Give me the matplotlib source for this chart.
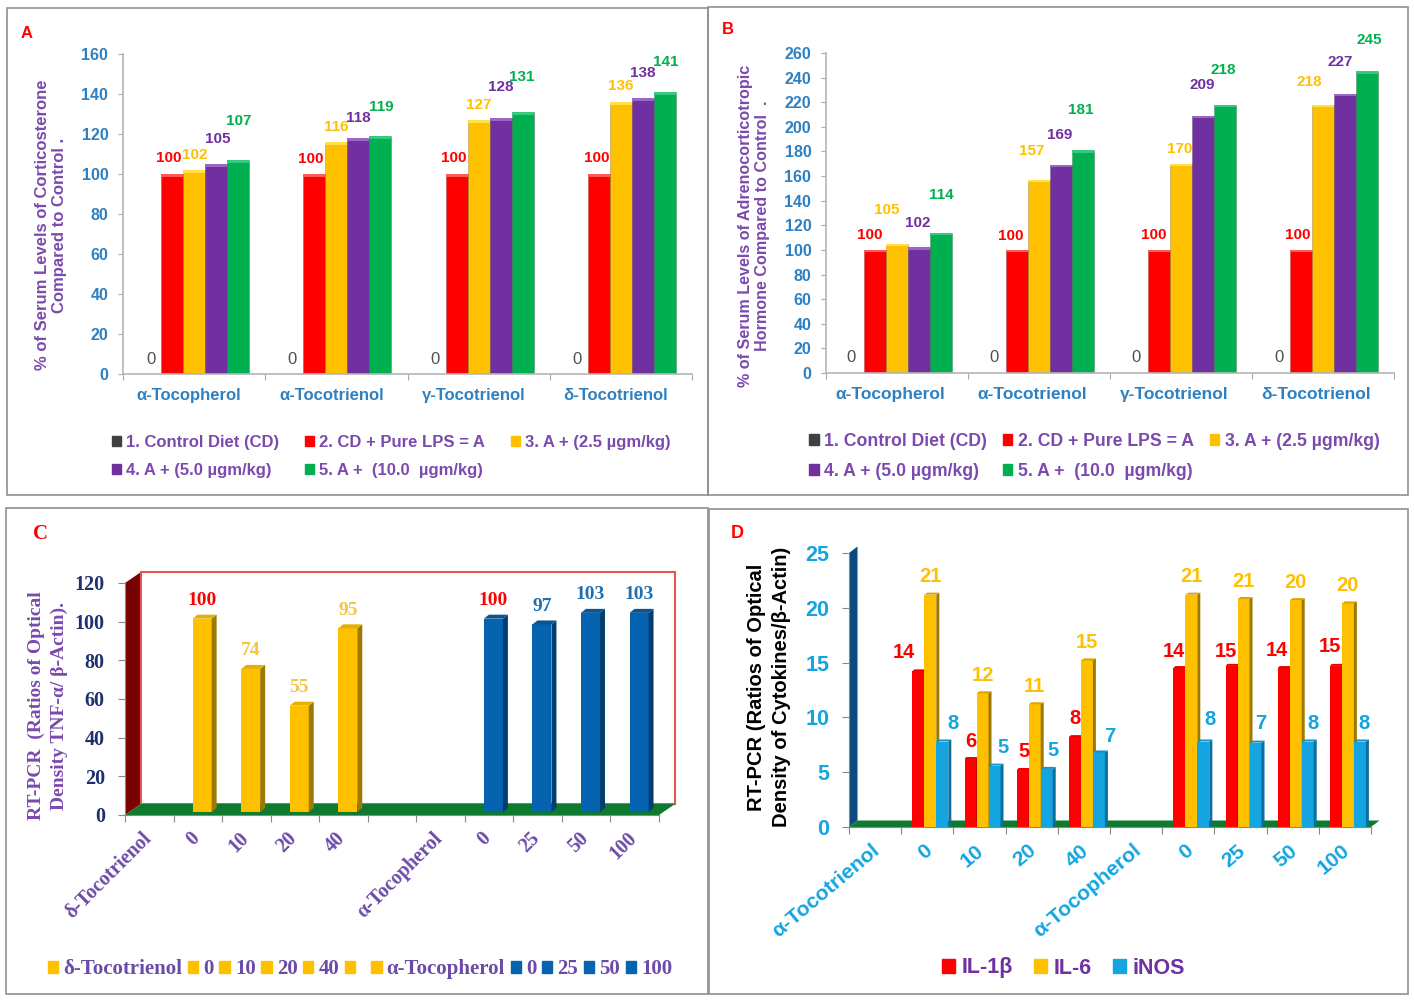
import matplotlib
matplotlib.use("Agg")
import matplotlib.pyplot as plt
from matplotlib.patches import Patch, Rectangle

W, H = 1414, 1001
SANS = "Liberation Sans"
SERIF = "Liberation Serif"

RED = "#FF0000"
ORANGE = "#FFC000"
PURPLE = "#7030A0"
GREEN = "#00B050"
GREY = "#404040"
BLUE_C = "#0563AF"
CYAN = "#14A5E0"
TEXT_PURPLE = "#7A4AAE"
AXIS_BLUE = "#2F80C0"

# Panel A
groups_a = ["α-Tocopherol", "α-Tocotrienol", "γ-Tocotrienol", "δ-Tocotrienol"]
control_a = [0, 0, 0, 0]
lps_a = [100, 100, 100, 100]
low_a = [102, 116, 127, 136]
mid_a = [105, 118, 128, 138]
high_a = [107, 119, 131, 141]

# Panel B
control_b = [0, 0, 0, 0]
lps_b = [100, 100, 100, 100]
low_b = [105, 157, 170, 218]
mid_b = [102, 169, 209, 227]
high_b = [114, 181, 218, 245]

legend_ab = ["1. Control Diet (CD)", "4. A + (5.0 µgm/kg)", "2. CD + Pure LPS = A",
             "5. A +  (10.0  µgm/kg)", "3. A + (2.5 µgm/kg)"]

# Panel C
labels_c = ["δ-Tocotrienol", "0", "10", "20", "40", "", "α-Tocopherol", "0", "25", "50", "100"]
delta_c = [100, 74, 55, 95]
alpha_c = [100, 97, 103, 103]

# Panel D
labels_d = ["α-Tocotrienol", "0", "10", "20", "40", "α-Tocopherol", "0", "25", "50", "100"]
il1b = [14.2, 6.2, 5.2, 8.2, 14.5, 14.7, 14.5, 14.7]
il6 = [21.2, 12.2, 11.2, 15.2, 21.2, 20.8, 20.7, 20.4]
inos = [7.8, 5.6, 5.3, 6.8, 7.8, 7.7, 7.8, 7.8]
il1b_text = ["14", "6", "5", "8", "14", "15", "14", "15"]
il6_text = ["21", "12", "11", "15", "21", "21", "20", "20"]
inos_text = ["8", "5", "5", "7", "8", "7", "8", "8"]

# label nudges in pixels (dx, up), one row per group
nudge_a = [[(1, 15), (-3, 16), (1, 15), (2, 25), (1, 39)],
           [(0, 15), (-4, 15), (0, 15), (0, 20), (1, 29)],
           [(0, 15), (-3, 16), (0, 15), (0, 31), (-1, 35)],
           [(0, 15), (-2, 16), (0, 16), (0, 25), (1, 30)]]
nudge_b = [[(-2, 15), (-5, 15), (-10, 34), (-1, 24), (0, 38)],
           [(-1, 15), (-6, 14), (-7, 29), (-1, 30), (-2, 40)],
           [(-1, 15), (-5, 15), (-1, 15), (-1, 31), (-2, 35)],
           [(0, 15), (-3, 15), (-14, 23), (-5, 32), (2, 31)]]
nudge_red = [(-14, 19), (0, 18), (1, 19), (0, 19), (-5, 17), (-6, 14), (-7, 18), (-6, 19)]
nudge_blue = [(11, 18), (9, 18), (6, 18), (11, 16), (7, 22), (5, 19), (5, 18), (4, 18)]

fig = plt.figure(figsize=(W / 100, H / 100), dpi=100)


def px_axes(left, top, right, bottom):
    ax = fig.add_axes([left / W, 1 - bottom / H, (right - left) / W, (bottom - top) / H])
    ax.patch.set_alpha(0)
    return ax


def fig_text(x, y, s, **kw):
    fig.text(x / W, 1 - y / H, s, ha="center", va="center", **kw)


def frame(left, top, right, bottom):
    fig.add_artist(Rectangle((left / W, 1 - bottom / H), (right - left) / W, (bottom - top) / H,
                             transform=fig.transFigure, fill=False, ec="#909090", lw=1.2))


def nudged(ax, s, x, y, dx, up, **kw):
    ax.annotate(s, (x, y), xytext=(dx * 0.72, up * 0.72), textcoords="offset points",
                ha="center", va="center", annotation_clip=False, **kw)


def bar_panel(ax, series, nudges, ymax, step, cap, name_size, name_shift):
    colors = [GREY, RED, ORANGE, PURPLE, GREEN]
    caps = [GREY, "#FF5A5A", "#FFE04A", "#9A66C8", "#35C97F"]
    width = 22 / 142.5
    for j, vals in enumerate(series):
        for i, v in enumerate(vals):
            x = i + 0.5 + (j - 2) * width
            if v > 0:
                ax.bar(x, v, width, color=colors[j], edgecolor="#00000040", linewidth=0.5)
                ax.bar(x, cap, width, bottom=v - cap, color=caps[j], linewidth=0)
            dx, up = nudges[i][j]
            if v > 0:
                nudged(ax, str(v), x, v, dx, up, color=colors[j], fontsize=11, fontweight="bold", family=SANS)
            else:
                nudged(ax, "0", x, 0, dx, up, color="#505050", fontsize=12, family=SANS)
    ax.set_xlim(0, 4)
    ax.set_ylim(0, ymax)
    ax.set_yticks(range(0, ymax + 1, step))
    ax.set_xticks(range(5))
    ax.set_xticklabels([])
    ax.set_xticks([i + 0.5 - name_shift / 142.5 for i in range(4)], minor=True)
    ax.set_xticklabels(groups_a, minor=True, color=AXIS_BLUE, fontsize=name_size, fontweight="bold", family=SANS)
    ax.tick_params(axis="x", which="minor", length=0, pad=10)
    ax.tick_params(axis="x", which="major", length=4, color="#aaaaaa")
    ax.tick_params(axis="y", length=3.6, color="#aaaaaa", pad=7, labelcolor=AXIS_BLUE, labelsize=11.5)
    for t in ax.get_yticklabels():
        t.set_fontweight("bold")
        t.set_family(SANS)
    for side in ["top", "right"]:
        ax.spines[side].set_visible(False)
    for side in ["left", "bottom"]:
        ax.spines[side].set_color("#b5b5b5")
        ax.spines[side].set_linewidth(1.2)


def legend_ab_at(x, y, size, gap, rows):
    colors = [GREY, PURPLE, RED, GREEN, ORANGE]
    handles = [Patch(color=c) for c in colors]
    fig.legend(handles, legend_ab, ncol=3, loc="upper left", bbox_to_anchor=(x / W, 1 - y / H),
               frameon=False, handlelength=0.55, handleheight=0.55, handletextpad=0.3,
               labelspacing=rows, columnspacing=gap, borderpad=0, borderaxespad=0,
               labelcolor=TEXT_PURPLE, prop={"family": SANS, "weight": "bold", "size": size})


def bar3d(ax, x, v, width, color, side, top, shift_x, shift_y, depth_x, depth_y):
    # front face plus side and top faces, offsets are in data units
    left = x + shift_x - width / 2
    right = x + shift_x + width / 2
    low = shift_y
    high = v + shift_y
    ax.bar(x + shift_x, v, width, bottom=low, color=color, linewidth=0, clip_on=False, zorder=4)
    ax.fill([right, right + depth_x, right + depth_x, right],
            [low, low + depth_y, high + depth_y, high], color=side, lw=0, clip_on=False, zorder=4)
    ax.fill([left, left + depth_x, right + depth_x, right],
            [high, high + depth_y, high + depth_y, high], color=top, lw=0, clip_on=False, zorder=4)


def room(ax, nx, ymax, wall_dx, wall_dy, wall_color, back=None):
    ax.fill([0, wall_dx, wall_dx, 0], [0, wall_dy, ymax + wall_dy, ymax],
            color=wall_color, lw=0, clip_on=False, zorder=1)
    if back:
        ax.add_patch(Rectangle((wall_dx, wall_dy), nx, ymax, fc="none", ec=back, lw=1.5,
                               clip_on=False, zorder=1))
    ax.fill([0, wall_dx, nx + wall_dx, nx], [0, wall_dy, wall_dy, 0],
            color="#0E7A30", lw=0, clip_on=False, zorder=2)


# panel frames
frame(7, 8, 708, 495)
frame(708, 7, 1408, 495)
frame(6, 508, 708, 994)
frame(709, 509, 1408, 994)

# Panel A
ax_a = px_axes(123, 54, 692, 374)
bar_panel(ax_a, [control_a, lps_a, low_a, mid_a, high_a], nudge_a, 160, 20, 1.25, 12, 5)
fig_text(27, 33, "A", color=RED, fontsize=12, fontweight="bold", family=SANS)
fig_text(51, 225, "% of Serum Levels of Corticosterone\nCompared to Control .", rotation=90,
         color=TEXT_PURPLE, fontsize=12, fontweight="bold", family=SANS, linespacing=1.2)
legend_ab_at(112, 435, 12, 1.55, 0.78)

# Panel B
ax_b = px_axes(826, 53, 1394, 373)
bar_panel(ax_b, [control_b, lps_b, low_b, mid_b, high_b], nudge_b, 260, 20, 2, 12.5, 7)
fig_text(728, 30, "B", color=RED, fontsize=12, fontweight="bold", family=SANS)
fig_text(754, 226, "% of Serum Levels of Adrenocorticotropic\nHormone Compared to Control  .", rotation=90,
         color=TEXT_PURPLE, fontsize=11.6, fontweight="bold", family=SANS, linespacing=1.2)
legend_ab_at(809, 433, 12.7, 0.9, 0.72)

# Panel C
ax_c = px_axes(125, 583, 659, 815)
sx = 11 / 534
sy = 120 / 232
room(ax_c, 11, 120, 16 * sx, 11 * sy, "#7B0000", back="#E05858")
for k, v in enumerate(delta_c):
    x = 1.5 + k
    bar3d(ax_c, x, v, 19 * sx, ORANGE, "#9C7A00", "#E6B000", 4.3 * sx, 3 * sy, 5 * sx, 4 * sy)
    nudged(ax_c, str(v), x + 4.3 * sx, v + 3 * sy, 0, 18, color=RED if k == 0 else "#F5C542",
           fontsize=14, fontweight="bold", family=SERIF)
for k, v in enumerate(alpha_c):
    x = 7.5 + k
    bar3d(ax_c, x, v, 19 * sx, BLUE_C, "#003E70", "#0A5694", 4.3 * sx, 3 * sy, 5 * sx, 4 * sy)
    nudged(ax_c, str(v), x + 4.3 * sx, v + 3 * sy, 0, 18, color=RED if k == 0 else "#1F6FB0",
           fontsize=14, fontweight="bold", family=SERIF)
ax_c.set_xlim(0, 11)
ax_c.set_ylim(0, 120)
ax_c.set_yticks(range(0, 121, 20))
ax_c.set_xticks(range(12))
ax_c.set_xticklabels([])
ax_c.set_xticks([i + 0.5 - 8 * sx for i in range(11)], minor=True)
ax_c.set_xticklabels(labels_c, minor=True, rotation=45, ha="right", va="top", rotation_mode="anchor",
                     color="#6B4BA8", fontsize=14.3, fontweight="bold", family=SERIF)
ax_c.tick_params(axis="x", which="minor", length=0, pad=9.7)
ax_c.tick_params(axis="x", which="major", length=5, color="#888888")
ax_c.tick_params(axis="y", length=5, color="#888888", pad=9.5, labelcolor="#1F3070", labelsize=14.5)
for t in ax_c.get_yticklabels():
    t.set_fontweight("bold")
    t.set_family(SERIF)
for side in ["top", "right"]:
    ax_c.spines[side].set_visible(False)
for side in ["left", "bottom"]:
    ax_c.spines[side].set_color("#888888")
fig_text(41, 534, "C", color=RED, fontsize=15, fontweight="bold", family=SERIF)
fig_text(48, 706, "RT-PCR  (Ratios of Optical\nDensity TNF-α/ β-Actin).", rotation=90,
         color=TEXT_PURPLE, fontsize=14, fontweight="bold", family=SERIF, linespacing=1.45)
legend_c = ["δ-Tocotrienol", "0", "10", "20", "40", " ", "α-Tocopherol", "0", "25", "50", "100"]
colors_c = [ORANGE] * 7 + [BLUE_C] * 4
fig.legend([Patch(color=c) for c in colors_c], legend_c, ncol=11, loc="center left",
           bbox_to_anchor=(48 / W, 1 - 969 / H), frameon=False, handlelength=0.5, handleheight=0.5,
           handletextpad=0.25, columnspacing=0.26, borderpad=0, borderaxespad=0,
           labelcolor="#6B4BA8", prop={"family": SERIF, "weight": "bold", "size": 15})

# Panel D
ax_d = px_axes(849, 553, 1371, 827)
sx = 10 / 522
sy = 25 / 274
room(ax_d, 10, 25, 8.5 * sx, 6.5 * sy, "#0B4A80")
bar_width = 12 * sx
slots_d = [1, 2, 3, 4, 6, 7, 8, 9]
for k, slot in enumerate(slots_d):
    c = slot + 0.5 + 3 * sx
    bar3d(ax_d, c - bar_width, il1b[k], bar_width, RED, "#A50000", "#E80000", 0, 0, 2 * sx, 2 * sy)
    bar3d(ax_d, c, il6[k], bar_width, ORANGE, "#9C7A00", "#D9A400", 0, 0, 3 * sx, 2 * sy)
    bar3d(ax_d, c + bar_width, inos[k], bar_width, CYAN, "#0B6E9C", "#1090C4", 0, 0, 3 * sx, 2 * sy)
    nudged(ax_d, il1b_text[k], c - bar_width, il1b[k], nudge_red[k][0], nudge_red[k][1], color=RED,
           fontsize=14.5, fontweight="bold", family=SANS, zorder=6)
    nudged(ax_d, il6_text[k], c, il6[k], 0, 18, color=ORANGE,
           fontsize=14.5, fontweight="bold", family=SANS, zorder=6)
    nudged(ax_d, inos_text[k], c + bar_width, inos[k], nudge_blue[k][0], nudge_blue[k][1], color=CYAN,
           fontsize=14.5, fontweight="bold", family=SANS, zorder=6)
ax_d.set_xlim(0, 10)
ax_d.set_ylim(0, 25)
ax_d.set_yticks(range(0, 26, 5))
ax_d.set_xticks(range(11))
ax_d.set_xticklabels([])
ax_d.set_xticks([i + 0.5 - 4 * sx for i in range(10)], minor=True)
ax_d.set_xticklabels(labels_d, minor=True, rotation=40, ha="right", va="top", rotation_mode="anchor",
                     color=CYAN, fontsize=15.2, fontweight="bold", family=SANS)
ax_d.tick_params(axis="x", which="minor", length=0, pad=10)
ax_d.tick_params(axis="x", which="major", length=5, color="#888888")
ax_d.tick_params(axis="y", length=5, color="#888888", pad=9, labelcolor=CYAN, labelsize=15.5)
for t in ax_d.get_yticklabels():
    t.set_fontweight("bold")
    t.set_family(SANS)
for side in ["top", "right"]:
    ax_d.spines[side].set_visible(False)
for side in ["left", "bottom"]:
    ax_d.spines[side].set_color("#888888")
fig_text(737, 534, "D", color=RED, fontsize=13, fontweight="bold", family=SANS)
fig_text(769, 687, "RT-PCR (Ratios of Optical\nDensity of Cytokines/β-Actin)", rotation=90,
         color="black", fontsize=14.5, fontweight="bold", family=SANS, linespacing=1.4)
fig.legend([Patch(color=c) for c in [RED, ORANGE, CYAN]], ["IL-1β", "IL-6", "iNOS"], ncol=3,
           loc="center left", bbox_to_anchor=(942 / W, 1 - 968 / H), frameon=False,
           handlelength=0.6, handleheight=0.6, handletextpad=0.3, columnspacing=1.0,
           borderpad=0, borderaxespad=0, labelcolor=PURPLE,
           prop={"family": SANS, "weight": "bold", "size": 15.5})

fig.savefig("out.png", dpi=100)
